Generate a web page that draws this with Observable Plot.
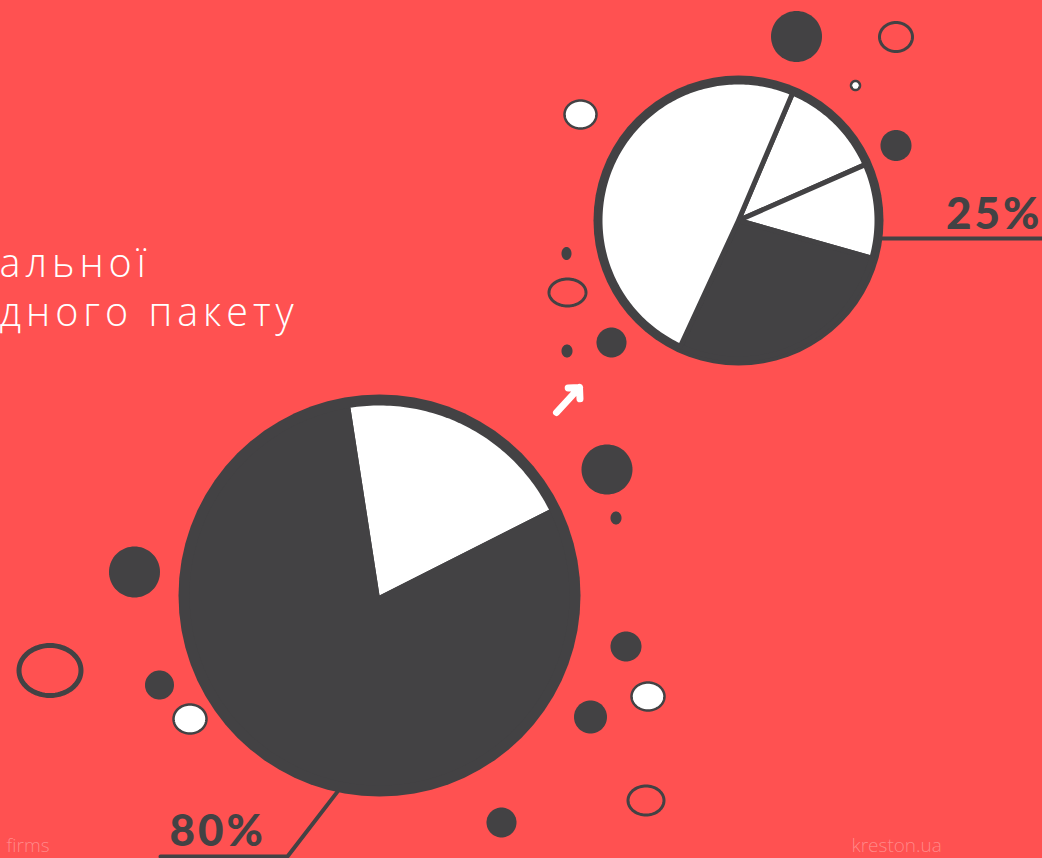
<!DOCTYPE html>
<html><head><meta charset="utf-8">
<script src="https://cdn.jsdelivr.net/npm/d3@7"></script>
<script src="https://cdn.jsdelivr.net/npm/@observablehq/plot@0.6"></script>
<style>
html,body{margin:0;padding:0;background:#ff5151;overflow:hidden}
#chart svg{display:block}
g.title-text text{letter-spacing:5px}
g.pct-text text{letter-spacing:3px}
</style></head><body><div id="chart"></div>
<script>
// ---- data ----
const bigCategories = ["частка", "решта"];
const bigValues = [20, 80];
const smallCategories = ["a", "b", "c", "d"];
const smallValues = [12, 11, 27.5, 49.5];
const pctLabels = ["80%", "25%"];
const titleLines = ["альної", "дного пакету"];
const footerTexts = ["firms", "kreston.ua"];

// ---- layout / style ----
const W = 1042, H = 858;
const RED = "#ff5151", DARK = "#434244", WHITE = "#ffffff";
const big = {cx: 379, cy: 595, r: 201, rIn: 190, start: -8.8, fills: [WHITE, DARK]};
const small = {cx: 738, cy: 220, r: 145, rIn: 138.5, start: 23, fills: [WHITE, WHITE, DARK, WHITE]};

const rad = Math.PI / 180;
const pt = (c, r, a) => [c.cx + r * Math.sin(a * rad), c.cy - r * Math.cos(a * rad)];

function slices(values, lay, name) {
  const total = d3.sum(values);
  const out = [];
  let a = lay.start;
  values.forEach((v, i) => {
    const a1 = a + (v / total) * 360;
    const id = name + i;
    const fill = lay.fills[i];
    out.push({id, fill, p: [lay.cx, lay.cy]});
    const n = Math.max(2, Math.ceil(a1 - a));
    for (let k = 0; k <= n; k++) out.push({id, fill, p: pt(lay, lay.rIn, a + (a1 - a) * k / n)});
    out.push({id, fill, p: [lay.cx, lay.cy]});
    a = a1;
  });
  return out;
}

function ellipse(id, cx, cy, rx, ry, fill, stroke, sw) {
  const out = [];
  for (let k = 0; k <= 72; k++) {
    const t = k / 72 * 2 * Math.PI;
    out.push({id, fill, stroke, sw, p: [cx + rx * Math.cos(t), cy + ry * Math.sin(t)]});
  }
  return out;
}

// decorative bubbles: [cx, cy, rx, ry, kind]
const decor = [
  [796, 36, 25.5, 25.5, "dark"],
  [895.5, 36.5, 16.5, 14.5, "ring"],
  [855, 85, 4.5, 4.5, "white"],
  [580, 114, 16, 14, "white"],
  [895.5, 145, 15.5, 15.5, "dark"],
  [566, 253, 5, 6.5, "dark"],
  [567, 292, 18.5, 13.5, "ring"],
  [611, 342, 15, 15, "dark"],
  [566.5, 350.5, 5.5, 6.5, "dark"],
  [606.5, 469, 25.5, 25, "dark"],
  [615.5, 517.5, 5.5, 6.5, "dark"],
  [134, 571.5, 25.5, 25.5, "dark"],
  [49.5, 670, 31, 25, "ringThick"],
  [159, 684.5, 14.5, 14.5, "dark"],
  [189.5, 718.5, 16.5, 14.5, "white"],
  [625.5, 646, 15.5, 15, "dark"],
  [647.5, 696, 16.5, 14, "white"],
  [590, 716.5, 16.5, 16.5, "dark"],
  [645.5, 800, 18, 14.5, "ring"],
  [501, 822, 15, 15, "dark"]
];
const decorPts = decor.flatMap(([x, y, rx, ry, kind], i) => {
  if (kind === "dark") return ellipse("d" + i, x, y, rx, ry, DARK, "none", 0);
  if (kind === "white") return ellipse("d" + i, x, y, rx, ry, WHITE, DARK, 2.5);
  if (kind === "ring") return ellipse("d" + i, x, y, rx, ry, "none", DARK, 3);
  return ellipse("d" + i, x, y, rx, ry, "none", DARK, 5);
});

const bigPts = slices(bigValues, big, "big");
const smallPts = slices(smallValues, small, "small");

const disc = (lay, id) => ellipse(id, lay.cx, lay.cy, lay.r, lay.r, DARK, "none", 0);

// leader lines derived from pie geometry
const bigLeaderStart = pt(big, big.r - 1, 192);
const smallLeaderStart = pt(small, small.r - 1, 97.2);
const leaders = [
  {id: "l80", p: bigLeaderStart},
  {id: "l80", p: [287, 856]},
  {id: "l80", p: [160, 856]},
  {id: "l25", p: smallLeaderStart},
  {id: "l25", p: [W, smallLeaderStart[1]]}
];

const X = d => d.p[0], Y = d => d.p[1];

const plot = Plot.plot({
  width: W, height: H, margin: 0,
  x: {domain: [0, W], range: [0, W], axis: null},
  y: {domain: [0, H], range: [0, H], axis: null},
  color: {type: "identity"},
  style: {background: RED, overflow: "hidden"},
  marks: [
    // title (cut off at left)
    Plot.text(titleLines, {
      x: () => -1, y: (d, i) => 276 + i * 49, text: d => d,
      textAnchor: "start", lineAnchor: "bottom",
      fontFamily: "Open Sans", fontWeight: 300, fontSize: 39.5, fill: WHITE,
      className: "title-text"
    }),
    // footer
    Plot.text(footerTexts, {
      x: (d, i) => i === 0 ? 6 : 851, y: () => 851, text: d => d,
      textAnchor: "start", lineAnchor: "bottom",
      fontFamily: "Open Sans", fontWeight: 300, fontSize: 19, fill: "rgba(255,255,255,0.33)"
    }),
    // leaders
    Plot.line(leaders, {x: X, y: Y, z: "id", stroke: DARK, strokeWidth: 4, strokeLinejoin: "miter"}),
    // big pie
    Plot.line(disc(big, "bigDisc"), {x: X, y: Y, z: "id", fill: DARK, stroke: "none"}),
    Plot.line(bigPts, {x: X, y: Y, z: "id", fill: "fill", stroke: "none"}),
    // small pie
    Plot.line(disc(small, "smallDisc"), {x: X, y: Y, z: "id", fill: DARK, stroke: "none"}),
    Plot.line(smallPts, {x: X, y: Y, z: "id", fill: "fill", stroke: DARK, strokeWidth: 5, strokeLinejoin: "round"}),
    // decor
    Plot.line(decorPts, {x: X, y: Y, z: "id", fill: "fill", stroke: "stroke", strokeWidth: "sw"}),
    // arrow
    Plot.arrow([{x1: 556, y1: 412, x2: 579, y2: 387}], {
      x1: "x1", y1: "y1", x2: "x2", y2: "y2", stroke: WHITE, strokeWidth: 7,
      headLength: 3, headAngle: 90, strokeLinecap: "round", strokeLinejoin: "round"
    }),
    // percentage labels
    Plot.text(pctLabels, {
      x: () => 169, y: () => 845, text: d => d,
      textAnchor: "start", lineAnchor: "bottom",
      fontFamily: "Lato", fontWeight: 900, fontSize: 44, fill: DARK,
      className: "pct-text",
      filter: (d, i) => i === 0
    }),
    Plot.text(pctLabels, {
      x: () => 1042, y: () => 228, text: d => d,
      textAnchor: "end", lineAnchor: "bottom",
      fontFamily: "Lato", fontWeight: 900, fontSize: 44, fill: DARK,
      className: "pct-text",
      filter: (d, i) => i === 1
    })
  ]
});
document.getElementById("chart").append(plot);
</script>
</body></html>
